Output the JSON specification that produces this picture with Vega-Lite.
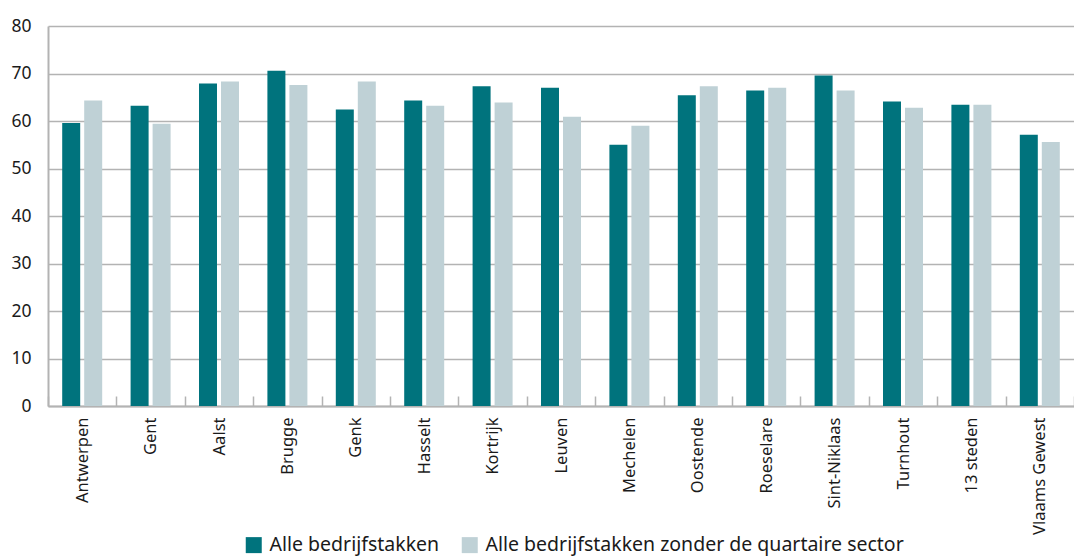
{
  "$schema": "https://vega.github.io/schema/vega-lite/v6.json",
  "width": 1026,
  "height": 380,
  "autosize": "none",
  "padding": {"left": 48, "top": 26, "right": 0, "bottom": 150},
  "background": "white",
  "config": {
    "font": "Noto Sans",
    "view": {"stroke": null}
  },
  "data": {
    "values": [
      {"stad": "Antwerpen", "reeks": "Alle bedrijfstakken", "waarde": 59.6},
      {"stad": "Antwerpen", "reeks": "Alle bedrijfstakken zonder de quartaire sector", "waarde": 64.3},
      {"stad": "Gent", "reeks": "Alle bedrijfstakken", "waarde": 63.2},
      {"stad": "Gent", "reeks": "Alle bedrijfstakken zonder de quartaire sector", "waarde": 59.4},
      {"stad": "Aalst", "reeks": "Alle bedrijfstakken", "waarde": 67.9},
      {"stad": "Aalst", "reeks": "Alle bedrijfstakken zonder de quartaire sector", "waarde": 68.3},
      {"stad": "Brugge", "reeks": "Alle bedrijfstakken", "waarde": 70.6},
      {"stad": "Brugge", "reeks": "Alle bedrijfstakken zonder de quartaire sector", "waarde": 67.6},
      {"stad": "Genk", "reeks": "Alle bedrijfstakken", "waarde": 62.4},
      {"stad": "Genk", "reeks": "Alle bedrijfstakken zonder de quartaire sector", "waarde": 68.3},
      {"stad": "Hasselt", "reeks": "Alle bedrijfstakken", "waarde": 64.3},
      {"stad": "Hasselt", "reeks": "Alle bedrijfstakken zonder de quartaire sector", "waarde": 63.2},
      {"stad": "Kortrijk", "reeks": "Alle bedrijfstakken", "waarde": 67.3},
      {"stad": "Kortrijk", "reeks": "Alle bedrijfstakken zonder de quartaire sector", "waarde": 63.9},
      {"stad": "Leuven", "reeks": "Alle bedrijfstakken", "waarde": 67.0},
      {"stad": "Leuven", "reeks": "Alle bedrijfstakken zonder de quartaire sector", "waarde": 60.9},
      {"stad": "Mechelen", "reeks": "Alle bedrijfstakken", "waarde": 55.0},
      {"stad": "Mechelen", "reeks": "Alle bedrijfstakken zonder de quartaire sector", "waarde": 59.0},
      {"stad": "Oostende", "reeks": "Alle bedrijfstakken", "waarde": 65.4},
      {"stad": "Oostende", "reeks": "Alle bedrijfstakken zonder de quartaire sector", "waarde": 67.3},
      {"stad": "Roeselare", "reeks": "Alle bedrijfstakken", "waarde": 66.4},
      {"stad": "Roeselare", "reeks": "Alle bedrijfstakken zonder de quartaire sector", "waarde": 67.0},
      {"stad": "Sint-Niklaas", "reeks": "Alle bedrijfstakken", "waarde": 69.6},
      {"stad": "Sint-Niklaas", "reeks": "Alle bedrijfstakken zonder de quartaire sector", "waarde": 66.4},
      {"stad": "Turnhout", "reeks": "Alle bedrijfstakken", "waarde": 64.1},
      {"stad": "Turnhout", "reeks": "Alle bedrijfstakken zonder de quartaire sector", "waarde": 62.8},
      {"stad": "13 steden", "reeks": "Alle bedrijfstakken", "waarde": 63.4},
      {"stad": "13 steden", "reeks": "Alle bedrijfstakken zonder de quartaire sector", "waarde": 63.4},
      {"stad": "Vlaams Gewest", "reeks": "Alle bedrijfstakken", "waarde": 57.1},
      {"stad": "Vlaams Gewest", "reeks": "Alle bedrijfstakken zonder de quartaire sector", "waarde": 55.6}
    ]
  },
  "mark": {"type": "bar"},
  "encoding": {
    "x": {
      "field": "stad",
      "type": "nominal",
      "sort": null,
      "title": null,
      "scale": {"paddingInner": 0, "paddingOuter": 0},
      "axis": {
        "labelAngle": -90,
        "labelAlign": "right",
        "labelBaseline": "middle",
        "labelFontSize": 16.5,
        "labelColor": "#1a1a1a",
        "labelPadding": 21,
        "tickBand": "extent",
        "tickSize": -10,
        "tickColor": "#b3b3b3",
        "tickWidth": 1.5,
        "domainColor": "#b3b3b3",
        "domainWidth": 2,
        "grid": false
      }
    },
    "xOffset": {
      "field": "reeks",
      "type": "nominal",
      "scale": {"paddingInner": 0.182, "paddingOuter": 0.6455}
    },
    "y": {
      "field": "waarde",
      "type": "quantitative",
      "title": null,
      "scale": {"domain": [0, 80]},
      "axis": {
        "values": [0, 10, 20, 30, 40, 50, 60, 70, 80],
        "labelFontSize": 17.5,
        "labelColor": "#1a1a1a",
        "labelPadding": 17,
        "ticks": false,
        "domainColor": "#b3b3b3",
        "domainWidth": 2,
        "gridColor": "#b3b3b3",
        "gridWidth": 1.5
      }
    },
    "color": {
      "field": "reeks",
      "type": "nominal",
      "title": null,
      "scale": {"range": ["#00737d", "#bfd1d6"]},
      "legend": {
        "orient": "none",
        "direction": "horizontal",
        "legendX": 196,
        "legendY": 509,
        "symbolType": "square",
        "symbolSize": 256,
        "symbolStrokeWidth": 0,
        "labelFontSize": 19.5,
        "labelColor": "#1a1a1a",
        "labelLimit": 500,
        "columnPadding": 20,
        "symbolOffset": 0,
        "labelOffset": 6
      }
    }
  }
}
